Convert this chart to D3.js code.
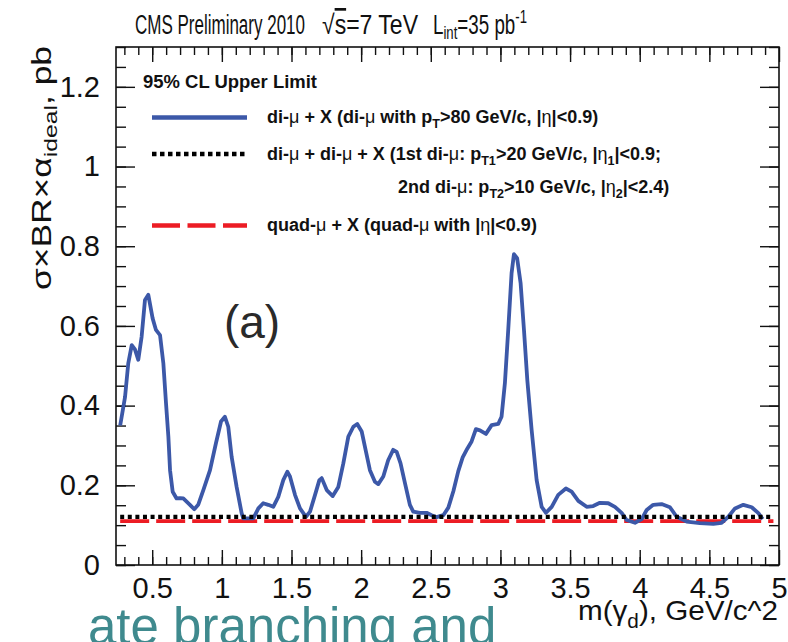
<!DOCTYPE html>
<html>
<head>
<meta charset="utf-8">
<script src="https://cdn.jsdelivr.net/npm/d3@7"></script>
<style>
  html, body { margin: 0; padding: 0; background: #fff; overflow: hidden; }
  svg { display: block; }
  text { font-family: "Liberation Sans", Arial, Helvetica, sans-serif; }
</style>
</head>
<body>
<div id="chart"></div>
<script>
// ---- data ----
// 95% CL limit, di-mu + X  [mass GeV/c^2, limit pb]
const diMuCurve = [
  [0.27,0.35],[0.305,0.422],[0.328,0.506],[0.353,0.552],[0.376,0.541],[0.40,0.515],
  [0.424,0.573],[0.448,0.665],[0.472,0.678],[0.503,0.619],[0.527,0.59],[0.556,0.577],
  [0.58,0.506],[0.599,0.406],[0.616,0.322],[0.628,0.238],[0.647,0.184],[0.675,0.167],
  [0.70,0.168],[0.723,0.167],[0.771,0.151],[0.802,0.14],[0.83,0.151],[0.867,0.188],
  [0.915,0.238],[0.957,0.305],[0.994,0.36],[1.022,0.372],[1.046,0.347],[1.07,0.272],
  [1.106,0.196],[1.142,0.13],[1.154,0.117],[1.226,0.117],[1.262,0.142],[1.297,0.155],
  [1.333,0.151],[1.369,0.146],[1.405,0.171],[1.441,0.213],[1.47,0.234],[1.489,0.222],
  [1.525,0.176],[1.561,0.142],[1.604,0.121],[1.633,0.134],[1.669,0.176],[1.70,0.213],
  [1.717,0.218],[1.753,0.188],[1.796,0.173],[1.836,0.196],[1.872,0.255],[1.908,0.322],
  [1.944,0.347],[1.972,0.354],[2.004,0.335],[2.035,0.284],[2.063,0.238],[2.099,0.209],
  [2.123,0.203],[2.159,0.222],[2.194,0.263],[2.23,0.289],[2.255,0.284],[2.283,0.255],
  [2.315,0.205],[2.35,0.151],[2.374,0.134],[2.422,0.131],[2.47,0.131],[2.506,0.125],
  [2.542,0.12],[2.59,0.125],[2.626,0.144],[2.662,0.185],[2.697,0.235],[2.729,0.27],
  [2.762,0.292],[2.793,0.31],[2.824,0.341],[2.853,0.338],[2.896,0.329],[2.937,0.351],
  [2.984,0.354],[3.008,0.372],[3.032,0.456],[3.056,0.59],[3.08,0.732],[3.097,0.78],
  [3.12,0.77],[3.145,0.707],[3.169,0.59],[3.193,0.464],[3.224,0.339],[3.26,0.213],
  [3.296,0.146],[3.327,0.131],[3.368,0.146],[3.415,0.176],[3.47,0.192],[3.511,0.184],
  [3.559,0.161],[3.619,0.146],[3.666,0.148],[3.714,0.156],[3.774,0.155],[3.822,0.146],
  [3.87,0.131],[3.906,0.113],[3.966,0.106],[4.014,0.115],[4.05,0.138],[4.097,0.151],
  [4.157,0.153],[4.217,0.145],[4.265,0.121],[4.337,0.109],[4.432,0.105],[4.528,0.103],
  [4.588,0.106],[4.636,0.121],[4.684,0.142],[4.744,0.151],[4.804,0.145],[4.852,0.13],
  [4.883,0.115]
]
// di-mu + di-mu + X (flat)
const diDiMuCurve = [[0.27,0.121],[4.96,0.121]]
// quad-mu + X (flat)
const quadMuCurve = [[0.27,0.11],[4.96,0.11]]

const xDomain = [0.24, 5]
const yDomain = [0, 1.3]
const xMajor = [0.5, 1, 1.5, 2, 2.5, 3, 3.5, 4, 4.5, 5]
const xMinor = d3.range(3, 50).map(d => d / 10)
const yMajor = [0, 0.2, 0.4, 0.6, 0.8, 1, 1.2]
const yMinor = d3.range(0, 27).map(d => d * 0.05)

const MARGIN = {TOP: 47, BOTTOM: 77, LEFT: 116, RIGHT: 9}
const WIDTH = 788 - MARGIN.LEFT - MARGIN.RIGHT
const HEIGHT = 642 - MARGIN.TOP - MARGIN.BOTTOM

const svg = d3.select("#chart").append("svg")
    .attr("width", 788)
    .attr("height", 642)

const g = svg.append("g")
    .attr("transform", `translate(${MARGIN.LEFT},${MARGIN.TOP})`)

const x = d3.scaleLinear().domain(xDomain).range([0, WIDTH])
const y = d3.scaleLinear().domain(yDomain).range([HEIGHT, 0])

// ---- axes (ROOT style: ticks inside, on all four sides) ----
function styleAxis(sel, labels) {
  sel.select(".domain").remove()
  sel.selectAll(".tick line").attr("stroke", "#111").attr("stroke-width", 1.4)
  if (!labels) sel.selectAll(".tick text").remove()
}
const fmt = d => d3.format("~g")(d)

g.append("g").attr("transform", `translate(0,${HEIGHT})`)
  .call(d3.axisBottom(x).tickValues(xMinor).tickSize(-8).tickFormat(""))
  .call(s => styleAxis(s, false))
g.append("g").attr("transform", `translate(0,${HEIGHT})`)
  .call(d3.axisBottom(x).tickValues(xMajor).tickSize(-15).tickPadding(12).tickFormat(fmt))
  .call(s => styleAxis(s, true))
  .selectAll("text").attr("font-size", 29).attr("fill", "#111")

g.append("g")
  .call(d3.axisTop(x).tickValues(xMinor).tickSize(-8).tickFormat(""))
  .call(s => styleAxis(s, false))
g.append("g")
  .call(d3.axisTop(x).tickValues(xMajor).tickSize(-15).tickFormat(""))
  .call(s => styleAxis(s, false))

g.append("g")
  .call(d3.axisLeft(y).tickValues(yMinor).tickSize(-10).tickFormat(""))
  .call(s => styleAxis(s, false))
g.append("g")
  .call(d3.axisLeft(y).tickValues(yMajor).tickSize(-19).tickPadding(16).tickFormat(fmt))
  .call(s => styleAxis(s, true))
  .selectAll("text").attr("font-size", 29).attr("fill", "#111")

g.append("g").attr("transform", `translate(${WIDTH},0)`)
  .call(d3.axisRight(y).tickValues(yMinor).tickSize(-10).tickFormat(""))
  .call(s => styleAxis(s, false))
g.append("g").attr("transform", `translate(${WIDTH},0)`)
  .call(d3.axisRight(y).tickValues(yMajor).tickSize(-19).tickFormat(""))
  .call(s => styleAxis(s, false))

g.append("rect")
  .attr("width", WIDTH).attr("height", HEIGHT)
  .attr("fill", "none").attr("stroke", "#111").attr("stroke-width", 1.6)

// ---- curves ----
const line = d3.line().x(d => x(d[0])).y(d => y(d[1]))

g.append("path").datum(quadMuCurve)
  .attr("d", line).attr("fill", "none")
  .attr("stroke", "#ec1c24").attr("stroke-width", 3.6)
  .attr("stroke-dasharray", "29,7")

g.append("path").datum(diMuCurve)
  .attr("d", line).attr("fill", "none")
  .attr("stroke", "#3c58a8").attr("stroke-width", 3.8)
  .attr("stroke-linejoin", "round")

g.append("path").datum(diDiMuCurve)
  .attr("d", line).attr("fill", "none")
  .attr("stroke", "#000").attr("stroke-width", 4.2)
  .attr("stroke-dasharray", "4,3.6")

// ---- legend ----
const LEG_FS = 18
const leg = svg.append("g")
leg.append("text").attr("x", 143).attr("y", 88)
  .attr("font-size", LEG_FS).attr("font-weight", "bold").attr("fill", "#111")
  .attr("textLength", 174).attr("lengthAdjust", "spacingAndGlyphs")
  .text("95% CL Upper Limit")

const legendRows = [
  {y: 117.5, stroke: "#3c58a8", dash: null, w: 4.5},
  {y: 154, stroke: "#000", dash: "4.5,3.5", w: 4.5},
  {y: 225.5, stroke: "#ec1c24", dash: "28,7.5", w: 4.5}
]
legendRows.forEach(r => {
  leg.append("line").attr("x1", 152).attr("x2", 247)
    .attr("y1", r.y).attr("y2", r.y)
    .attr("stroke", r.stroke).attr("stroke-width", r.w)
    .attr("stroke-dasharray", r.dash)
})

// text with sub/superscripts: parts = [text, shift, normalWeight]
function richText(sel, parts, size) {
  let cur = 0
  parts.forEach(p => {
    const shift = p[1] || 0
    const t = sel.append("tspan").text(p[0]).attr("dy", shift - cur)
    if (shift !== 0) t.attr("font-size", size * 0.7)
    if (p[2]) t.attr("font-weight", "normal")
    cur = shift
  })
}
const legTexts = [
  {x: 267, y: 123, parts: [["di-"],["μ",0,1],[" + X (di-"],["μ",0,1],[" with p"],["T",5],[">80 GeV/c, |"],["η",0,1],["|<0.9)"]]},
  {x: 267, y: 160, parts: [["di-"],["μ",0,1],[" + di-"],["μ",0,1],[" + X (1st di-"],["μ",0,1],[": p"],["T1",5],[">20 GeV/c, |"],["η",0,1],["1",5],["|<0.9;"]]},
  {x: 398, y: 193, parts: [["2nd di-"],["μ",0,1],[": p"],["T2",5],[">10 GeV/c, |"],["η",0,1],["2",5],["|<2.4)"]]},
  {x: 267, y: 231, parts: [["quad-"],["μ",0,1],[" + X (quad-"],["μ",0,1],[" with |"],["η",0,1],["|<0.9)"]]}
]
legTexts.forEach(t => {
  const el = leg.append("text").attr("x", t.x).attr("y", t.y)
    .attr("font-size", LEG_FS).attr("font-weight", "bold").attr("fill", "#111")
  richText(el, t.parts, LEG_FS)
})

// ---- title ----
const title = svg.append("g").attr("fill", "#111")
title.append("text").attr("x", 135).attr("y", 34).attr("font-size", 27)
  .attr("textLength", 170).attr("lengthAdjust", "spacingAndGlyphs")
  .text("CMS Preliminary 2010")
const rs = title.append("text").attr("x", 322).attr("y", 34).attr("font-size", 27)
  .attr("textLength", 96).attr("lengthAdjust", "spacingAndGlyphs")
rs.append("tspan").text("√")
rs.append("tspan").text("s").style("text-decoration", "overline")
rs.append("tspan").text("=7 TeV")
const lum = title.append("text").attr("x", 433).attr("y", 34).attr("font-size", 27)
  .attr("textLength", 94).attr("lengthAdjust", "spacingAndGlyphs")
richText(lum, [["L"],["int",5],["=35 pb"],["-1",-11]], 27)

// ---- axis titles ----
const yt = svg.append("text")
  .attr("transform", "translate(51,290) rotate(-90)")
  .attr("font-size", 27).attr("fill", "#111")
  .attr("textLength", 244).attr("lengthAdjust", "spacingAndGlyphs")
richText(yt, [["σ×BR×α"],["ideal",6],[", pb"]], 27)

const xt = svg.append("text").attr("x", 778).attr("y", 620)
  .attr("text-anchor", "end").attr("font-size", 28).attr("fill", "#111")
  .attr("textLength", 200).attr("lengthAdjust", "spacingAndGlyphs")
richText(xt, [["m(γ"],["d",8],["), GeV/c^2"]], 28)

// panel tag
svg.append("text").attr("x", 252).attr("y", 338)
  .attr("text-anchor", "middle")
  .attr("font-family", "'Liberation Serif', 'Times New Roman', serif")
  .attr("font-size", 46).attr("fill", "#2a2a2a")
  .text("(a)")

// slide text cut off at the bottom
svg.append("text").attr("x", 88).attr("y", 644)
  .attr("font-family", "'Liberation Serif', 'DejaVu Serif', serif")
  .attr("font-size", 51).attr("fill", "#3f8a8e")
  .text("ate branching and")
</script>
</body>
</html>
